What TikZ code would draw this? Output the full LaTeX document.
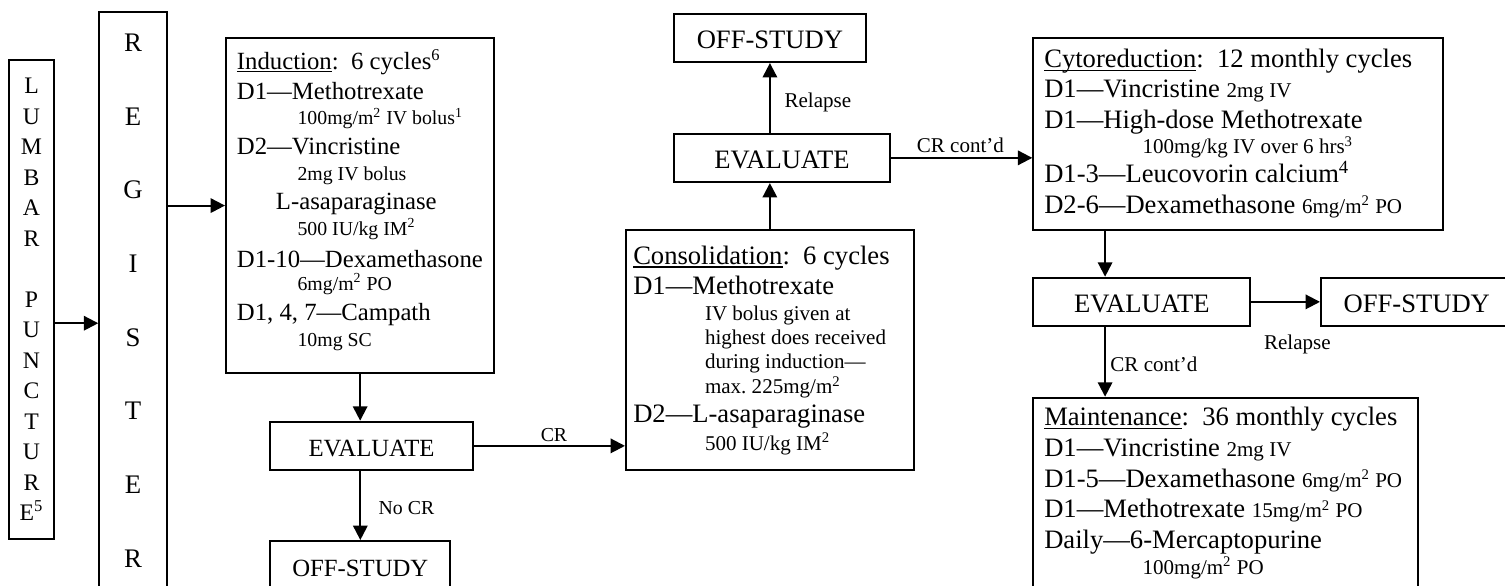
\documentclass[tikz,border=0pt]{standalone}
\usepackage{fontspec}
\setmainfont{Liberation Serif}
\usetikzlibrary{arrows.meta}
\newcommand{\bodytxt}{\fontsize{12}{14.8}\selectfont}
\newcommand{\dosetxt}{\fontsize{9.6}{11.5}\selectfont}
\newcommand{\bodytxtR}{\fontsize{12.9}{14.8}\selectfont}
\newcommand{\dosetxtR}{\fontsize{10.2}{12}\selectfont}
\newcommand{\sqm}{m\textsuperscript{2}}
% underlined phase name, rule set just under the baseline
\newcommand{\phase}[1]{\setbox0\hbox{#1}\rlap{\rule[-1.6pt]{\wd0}{0.7pt}}\box0}

\begin{document}
\begin{tikzpicture}[x=0.485pt, y=-0.485pt, >={Triangle[length=7pt,width=7pt]},
  frame/.style={draw, line width=1pt, inner sep=0pt},
  column/.style={frame, align=center},
  plan/.style={frame, anchor=north west, align=left, inner ysep=0pt, font=\bodytxtR,
    execute at begin node={\spaceskip=0pt \xspaceskip=0pt}},
  verdict/.style={frame, anchor=north west, text height=17pt, text depth=6.4pt, font=\bodytxtR},
  edge/.style={->, line width=1pt},
  note/.style={font=\dosetxtR, inner sep=1pt}
]
\useasboundingbox (0,0) rectangle (1505,585);
\node[column, minimum width=21.8pt, minimum height=232.3pt, font=\fontsize{11.5}{14.8}\selectfont] (lp) at (31.5,299.5) {L\\U\\M\\B\\A\\R\\[14.8pt]P\\U\\N\\C\\T\\U\\R\\E\textsuperscript{5}};
\node[column, minimum width=32.7pt, minimum height=280.1pt, font=\fontsize{13}{35.75}\selectfont] (reg) at (133,300.5) {R\\E\\G\\I\\S\\T\\E\\R};
\node[plan, font=\bodytxt, inner xsep=5.3pt, text width=119.5pt, text height=15.2pt, text depth=147.6pt] (ind) at (225,36.7) {%
\phase{Induction}:\ \ 6 cycles\textsuperscript{6}\\
D1---Methotrexate\\[-2.5pt]
\hspace*{29.4pt}{\dosetxt 100mg/\sqm{} IV bolus\textsuperscript{1}}\\[-0.4pt]
D2---Vincristine\\[-2.2pt]
\hspace*{29.4pt}{\dosetxt 2mg IV bolus}\\[-0.7pt]
\hspace*{18.9pt}L-asaparaginase\\[-2.5pt]
\hspace*{29.4pt}{\dosetxt 500 IU/kg IM\textsuperscript{2}}\\[0.9pt]
\mbox{D1-10---Dexamethasone}\\[-3.8pt]
\hspace*{29.4pt}{\dosetxt 6mg/\sqm{} PO}\\
D1, 4, 7---Campath\\[-2.3pt]
\hspace*{29.4pt}{\dosetxt 10mg SC}};
\node[plan, inner xsep=3.5pt, text width=132.5pt, text height=16.6pt, text depth=99.8pt] (con) at (625,229) {%
\phase{Consolidation}:\ \ 6 cycles\\
D1---Methotrexate\\[-2.3pt]
\hspace*{34.8pt}{\dosetxtR IV bolus given at}\\[-3.1pt]
\hspace*{34.8pt}{\dosetxtR highest does received}\\[-3.1pt]
\hspace*{34.8pt}{\dosetxtR during induction---}\\[-2.7pt]
\hspace*{34.8pt}{\dosetxtR max.\ 225mg/\sqm}\\[-0.9pt]
D2---L-asaparaginase\\[-1.2pt]
\hspace*{34.8pt}{\dosetxtR 500 IU/kg IM\textsuperscript{2}}};
\node[plan, inner xsep=5.3pt, text width=188pt, text height=14.55pt, text depth=78.7pt] (cyto) at (1032.3,36.7) {%
\phase{Cytoreduction}:\ \ 12 monthly cycles\\[-0.25pt]
\mbox{D1---Vincristine {\dosetxtR 2mg IV}}\\
D1---High-dose Methotrexate\\[-2.5pt]
\hspace*{47.7pt}\mbox{\dosetxtR 100mg/kg IV over 6 hrs\textsuperscript{3}}\\[-0.7pt]
D1-3---Leucovorin calcium\textsuperscript{4}\\
\mbox{D2-6---Dexamethasone {\dosetxtR 6mg/\sqm{} PO}}};
\node[plan, inner xsep=5.3pt, text width=175.8pt, text height=13.7pt, text depth=79.5pt] (main) at (1032.3,396.7) {%
\phase{Maintenance}:\ \ 36 monthly cycles\\
\mbox{D1---Vincristine {\dosetxtR 2mg IV}}\\
\mbox{D1-5---Dexamethasone {\dosetxtR 6mg/\sqm{} PO}}\\
\mbox{D1---Methotrexate {\dosetxtR 15mg/\sqm{} PO}}\\
Daily---6-Mercaptopurine\\[-2.2pt]
\hspace*{47.7pt}{\dosetxtR 100mg/\sqm{} PO}};
\node[verdict, font=\bodytxt, minimum width=98.2pt] (eval1) at (269.3,420.7) {EVALUATE};
\node[verdict, font=\bodytxt, minimum width=87.3pt] (off1) at (269.3,540) {OFF-STUDY};
\node[verdict, minimum width=105pt] (eval2) at (672.7,132.7) {EVALUATE};
\node[verdict, minimum width=93.3pt] (off2) at (672.7,12.7) {OFF-STUDY};
\node[verdict, minimum width=105.2pt] (eval3) at (1032.3,276.7) {EVALUATE};
\node[verdict, minimum width=92.9pt] (off3) at (1320,276.7) {OFF-STUDY};
\coordinate (lpout) at ([yshift=-11.5pt]lp.east);
\draw[edge] (lpout) -- (lpout -| reg.west);
\draw[edge] (ind.west -| reg.east) -- (ind.west);
\draw[edge] (ind.south) -- (ind.south |- eval1.north);
\draw[edge] (off1.north |- eval1.south) -- (off1.north) node[note, font=\dosetxt, right=7.4pt, pos=.53] {No CR};
\draw[edge] (eval1.east) -- (eval1.east -| con.west) node[note, font=\dosetxt, above=0.5pt, pos=.53] {CR};
\draw[edge] (con.north) -- (con.north |- eval2.south);
\draw[edge] (off2.south |- eval2.north) -- (off2.south) node[note, right=5.6pt, pos=.43] {Relapse};
\draw[edge] (eval2.east) -- (eval2.east -| cyto.west) node[note, above=0.8pt, pos=.49] {CR cont'd};
\draw[edge] ([xshift=35.3pt]cyto.south west) -- ([xshift=35.3pt]eval3.north west);
\draw[edge] (eval3.east) -- (off3.west) node[note, below=14.4pt, pos=.67] {Relapse};
\draw[edge] ([xshift=35.3pt]eval3.south west) -- ([xshift=35.3pt]main.north west) node[note, right=1.1pt, pos=.53] {CR cont'd};
\end{tikzpicture}
\end{document}
